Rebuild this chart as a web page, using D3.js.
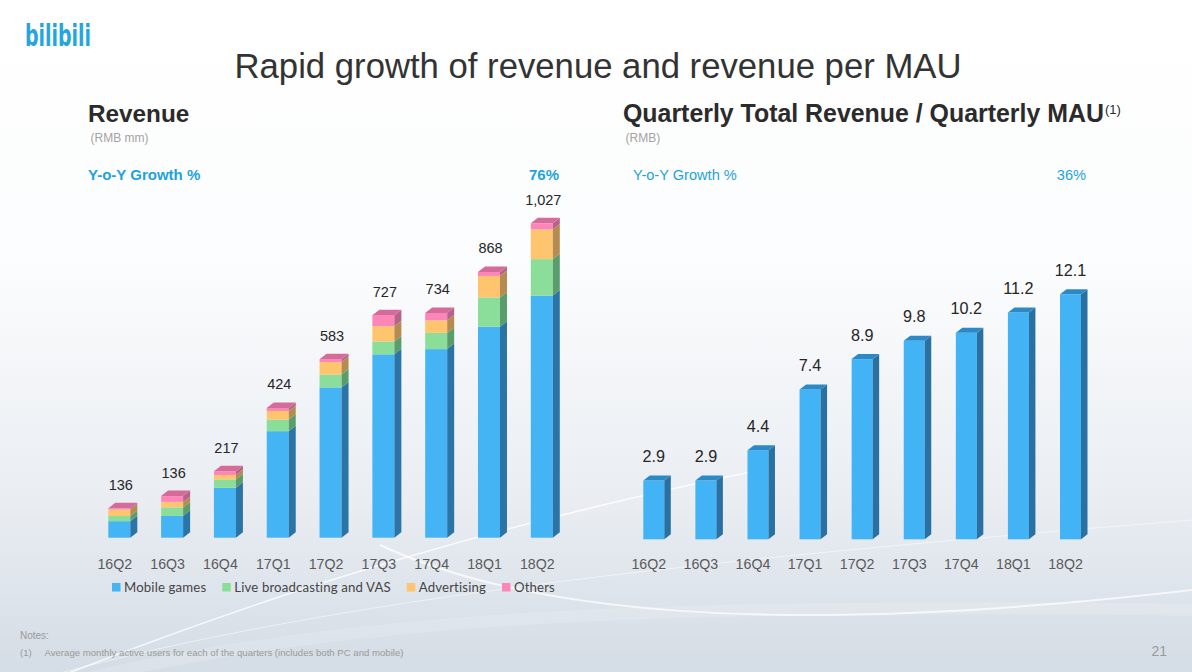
<!DOCTYPE html>
<html>
<head>
<meta charset="utf-8">
<script src="https://cdn.jsdelivr.net/npm/d3@7"></script>
<style>
  html, body { margin: 0; padding: 0; background: #fff; }
  svg { display: block; font-family: "Liberation Sans", Arial, sans-serif; }
</style>
</head>
<body>
<svg id="slide" width="1192" height="672"></svg>
<script>
// chart data
var quarters = ["16Q2", "16Q3", "16Q4", "17Q1", "17Q2", "17Q3", "17Q4", "18Q1", "18Q2"];
var mobileGames = [54, 71, 163, 348, 491, 599, 616, 689, 791];
var liveVas = [17, 28, 27, 38, 42, 42, 53, 96, 119];
var advertising = [21, 18, 15, 28, 41, 50, 41, 70, 97];
var others = [4, 19, 12, 10, 9, 36, 24, 13, 20];
var revenueLabels = ["136", "136", "217", "424", "583", "727", "734", "868", "1,027"];
var revPerMau = [2.9, 2.9, 4.4, 7.4, 8.9, 9.8, 10.2, 11.2, 12.1];
var seriesNames = ["Mobile games", "Live broadcasting and VAS", "Advertising", "Others"];
var revenueGrowth = "76%";
var mauGrowth = "36%";

var svg = d3.select("#slide");

// background
var defs = svg.append("defs");
var bg = defs.append("linearGradient").attr("id", "bg")
  .attr("x1", 0).attr("y1", 0).attr("x2", 0).attr("y2", 1);
bg.append("stop").attr("offset", "0%").attr("stop-color", "#ffffff");
bg.append("stop").attr("offset", "40%").attr("stop-color", "#fbfcfd");
bg.append("stop").attr("offset", "75%").attr("stop-color", "#e9edf2");
bg.append("stop").attr("offset", "100%").attr("stop-color", "#d4dce5");
svg.append("rect").attr("width", 1192).attr("height", 672).attr("fill", "url(#bg)");

// faint swooshes
var swoosh = svg.append("g").attr("fill", "none").attr("stroke", "#ffffff");
swoosh.append("path").attr("d", "M0,700 C200,620 420,540 760,470").attr("stroke-width", 1.6).attr("stroke-opacity", 0.8);
swoosh.append("path").attr("d", "M380,545 C520,610 760,640 1192,590").attr("stroke-width", 2).attr("stroke-opacity", 0.7);
swoosh.append("path").attr("d", "M0,690 C300,600 700,560 1192,520").attr("stroke-width", 1).attr("stroke-opacity", 0.5);
swoosh.append("path").attr("d", "M0,700 C260,630 520,600 1192,610").attr("stroke-width", 12).attr("stroke-opacity", 0.15);

// logo + title
svg.append("text").attr("x", 25).attr("y", 46)
  .attr("font-family", "'DejaVu Sans', sans-serif").attr("font-weight", "bold")
  .attr("font-size", 31).attr("fill", "#23a5df")
  .attr("textLength", 66).attr("lengthAdjust", "spacingAndGlyphs")
  .text("bilibili");

svg.append("text").attr("x", 598).attr("y", 78).attr("text-anchor", "middle")
  .attr("font-size", 34.7).attr("fill", "#333").text("Rapid growth of revenue and revenue per MAU");

// headings
function heading(x, title, size, unit, boldGrowth, growth, growthX) {
  var t = svg.append("text").attr("x", x).attr("y", 122).attr("font-size", size)
    .attr("font-weight", "bold").attr("fill", "#2b2b2b").text(title);
  svg.append("text").attr("x", x + 2.5).attr("y", 141.5).attr("font-size", 12)
    .attr("fill", "#a3a3a3").text(unit);
  svg.append("text").attr("x", boldGrowth ? x : x + 10).attr("y", 179.5)
    .attr("font-size", boldGrowth ? 15 : 14.6).attr("font-weight", boldGrowth ? "bold" : "normal")
    .attr("fill", "#1ea2de").text("Y-o-Y Growth %");
  svg.append("text").attr("x", growthX).attr("y", 179.5).attr("text-anchor", "end")
    .attr("font-size", boldGrowth ? 15 : 14.6).attr("font-weight", boldGrowth ? "bold" : "normal")
    .attr("fill", "#1ea2de").text(growth);
  return x + t.node().getComputedTextLength();
}
heading(88, "Revenue", 24.3, "(RMB mm)", true, revenueGrowth, 559);
var titleEnd = heading(623, "Quarterly Total Revenue / Quarterly MAU", 24.9, "(RMB)", false, mauGrowth, 1086);
svg.append("text").attr("x", titleEnd + 1).attr("y", 114).attr("font-size", 13)
  .attr("fill", "#2b2b2b").text("(1)");

// 3d bar piece: front face, side face, optional top face
function box(g, cx, yBot, yTop, w, dx, dy, c, drawTop, topColor) {
  var x0 = cx - w / 2, x1 = cx + w / 2;
  g.append("rect").attr("x", x0).attr("y", yTop).attr("width", w)
    .attr("height", Math.max(0, yBot - yTop)).attr("fill", c.front);
  g.append("path").attr("fill", c.side)
    .attr("d", "M" + x1 + "," + yTop + "L" + (x1 + dx) + "," + (yTop - dy) +
      "L" + (x1 + dx) + "," + (yBot - dy) + "L" + x1 + "," + yBot + "Z");
  if (drawTop) {
    g.append("path").attr("fill", topColor)
      .attr("d", "M" + x0 + "," + yTop + "L" + (x0 + dx) + "," + (yTop - dy) +
        "L" + (x1 + dx) + "," + (yTop - dy) + "L" + x1 + "," + yTop + "Z");
  }
}

var colors = [
  { front: "#44b4f5", side: "#2b74a6" },
  { front: "#8bde9a", side: "#5a9d6c" },
  { front: "#fec46e", side: "#b58c50" },
  { front: "#fc86b7", side: "#b8618a" }
];

// ---- left: stacked revenue ----
var rows = quarters.map(function (q, i) {
  return { q: q, mobile: mobileGames[i], live: liveVas[i], adv: advertising[i], other: others[i] };
});
var keys = ["mobile", "live", "adv", "other"];
var stack = d3.stack().keys(keys)(rows);
var totals = rows.map(function (r) { return r.mobile + r.live + r.adv + r.other; });

var xL = d3.scalePoint().domain(quarters).range([119.3, 541.8]);
var yL = d3.scaleLinear().domain([0, d3.max(totals)]).range([537.7, 223.3]);

var gL = svg.append("g");
quarters.forEach(function (q, i) {
  var cx = xL(q);
  stack.forEach(function (s, k) {
    var d = s[i];
    box(gL, cx, yL(d[0]), yL(d[1]), 22, 7, 5.5, colors[k], k === keys.length - 1, "#d56b98");
  });
});

gL.selectAll("text.val").data(quarters).enter().append("text")
  .attr("class", "val")
  .attr("x", function (q) { return xL(q) + 1.5; })
  .attr("y", function (q, i) { return yL(totals[i]) - 18.5; })
  .attr("text-anchor", "middle").attr("font-size", 14.5).attr("fill", "#262626")
  .text(function (q, i) { return revenueLabels[i]; });

var axL = svg.append("g").attr("transform", "translate(-5,568.5)")
  .call(d3.axisBottom(xL).tickSize(0).tickPadding(0));
axL.select(".domain").remove();
axL.selectAll("text").attr("y", 0).attr("dy", 0)
  .attr("font-family", "'Liberation Sans', Arial, sans-serif")
  .attr("font-size", 14.2).attr("fill", "#5a5a5a");

// legend
var lg = svg.append("g").attr("transform", "translate(112,592)");
var lx = 0;
seriesNames.forEach(function (name, k) {
  lg.append("rect").attr("x", lx).attr("y", -9).attr("width", 8.5).attr("height", 8.5)
    .attr("fill", colors[k].front);
  var t = lg.append("text").attr("x", lx + 12).attr("y", 0)
    .attr("font-family", "Lato, 'Open Sans', sans-serif").attr("font-size", 13.2)
    .attr("letter-spacing", 0.15).attr("fill", "#454545").text(name);
  lx += 12 + t.node().getComputedTextLength() + 16;
});

// ---- right: revenue per MAU ----
var xR = d3.scalePoint().domain(quarters).range([653.8, 1070.5]);
var yR = d3.scaleLinear().domain([0, d3.max(revPerMau)]).range([539.3, 294.3]);

var gR = svg.append("g");
var blueR = { front: "#42b3f4", side: "#2a71a3" };
quarters.forEach(function (q, i) {
  box(gR, xR(q), yR(0), yR(revPerMau[i]), 21, 6.5, 5, blueR, true, "#2d88c6");
});
gR.selectAll("text.val").data(revPerMau).enter().append("text")
  .attr("class", "val")
  .attr("x", function (d, i) { return xR(quarters[i]); })
  .attr("y", function (d) { return yR(d) - 18.5; })
  .attr("text-anchor", "middle").attr("font-size", 16.2).attr("fill", "#262626")
  .text(function (d) { return d3.format(".1f")(d); });

var axR = svg.append("g").attr("transform", "translate(-5.5,568.5)")
  .call(d3.axisBottom(xR).tickSize(0).tickPadding(0));
axR.select(".domain").remove();
axR.selectAll("text").attr("y", 0).attr("dy", 0)
  .attr("font-family", "'Liberation Sans', Arial, sans-serif")
  .attr("font-size", 14.2).attr("fill", "#5a5a5a");

// footer
svg.append("text").attr("x", 20).attr("y", 639).attr("font-size", 10)
  .attr("fill", "#9a9a9a").text("Notes:");
svg.append("text").attr("x", 20).attr("y", 656).attr("font-size", 9.5)
  .attr("fill", "#9a9a9a").text("(1)");
svg.append("text").attr("x", 44.5).attr("y", 656).attr("font-size", 9.5)
  .attr("fill", "#9a9a9a").attr("textLength", 359).attr("lengthAdjust", "spacingAndGlyphs")
  .text("Average monthly active users for each of the quarters (includes both PC and mobile)");
svg.append("text").attr("x", 1167).attr("y", 656).attr("text-anchor", "end")
  .attr("font-size", 14).attr("fill", "#9a9a9a").text("21");
</script>
</body>
</html>
